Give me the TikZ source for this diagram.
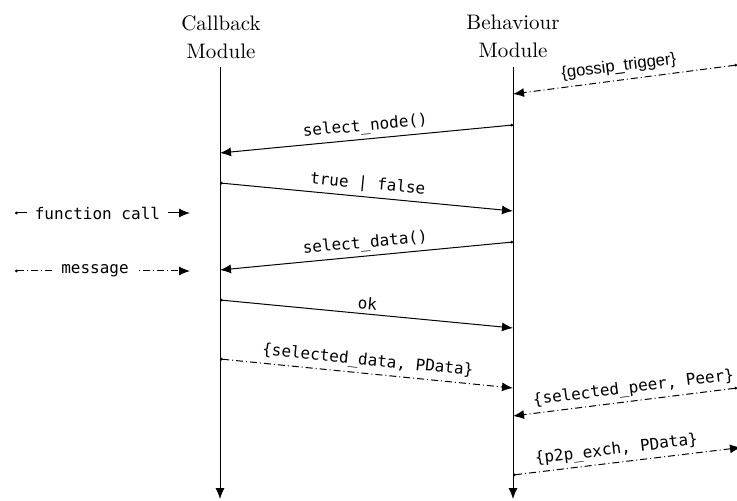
\documentclass[tikz,border=0pt]{standalone}
\usepackage{fontspec}
\newfontfamily\monofont{DejaVu Sans Mono}
\newfontfamily\helvfont{Liberation Sans}
\usetikzlibrary{arrows.meta}
\begin{document}
\begin{tikzpicture}[x=0.5pt,y=-0.5pt,
  lifeline/.style={line width=0.45pt,-{Latex[length=5.5pt,width=4.5pt]}},
  call/.style={line width=0.5pt,{Circle[length=1.3pt]}-{Latex[length=5.5pt,width=4.5pt]}},
  msg/.style={call,dash pattern=on 3.5pt off 1.5pt on 0.5pt off 1.5pt},
  lbl/.style={font=\monofont\fontsize{8}{9}\selectfont,sloped,above,inner sep=2pt},
  sanslbl/.style={font=\helvfont\fontsize{8.3}{9}\selectfont,sloped,above,inner sep=2.5pt},
  legendtext/.style={font=\monofont\fontsize{8}{9}\selectfont,fill=white,inner xsep=4pt,inner ysep=1pt},
  title/.style={font=\fontsize{10.5}{14}\selectfont,align=center,anchor=north,inner sep=0pt}]
\useasboundingbox (0,0) rectangle (737,501);
\clip (0,0) rectangle (737,501);
% titles
\node[title] (cb) at (221,15) {Callback\\Module};
\node[title] (bm) at (513,15) {Behaviour\\Module};
% lifelines
\coordinate (cbTop) at (220,67);
\coordinate (cbBot) at (220,499);
\coordinate (bmTop) at (513,67);
\coordinate (bmBot) at (513,499);
\draw[lifeline] (cbTop) -- (cbBot);
\draw[lifeline] (bmTop) -- (bmBot);
% messages
\coordinate (g1) at (737,65);   \coordinate (g2) at (513,94);
\coordinate (n1) at (513,125);  \coordinate (n2) at (220,153);
\coordinate (t1) at (220,183);  \coordinate (t2) at (513,211);
\coordinate (d1) at (513,242);  \coordinate (d2) at (220,270);
\coordinate (o1) at (220,300);  \coordinate (o2) at (513,328);
\coordinate (s1) at (220,359);  \coordinate (s2) at (513,388);
\coordinate (p1) at (737,388);  \coordinate (p2) at (513,416);
\coordinate (x1) at (513,475);  \coordinate (x2) at (741,447.5);
\draw[msg] (g1) -- node[sanslbl,pos=0.52] {\{gossip\_trigger\}} (g2);
\draw[call] (n1) -- node[lbl] {select\_node()} (n2);
\draw[call] (t1) -- node[lbl] {true | false} (t2);
\draw[call] (d1) -- node[lbl] {select\_data()} (d2);
\draw[call] (o1) -- node[lbl] {ok} (o2);
\draw[msg] (s1) -- node[lbl] {\{selected\_data, PData\}} (s2);
\draw[msg] (p1) -- node[lbl,pos=0.455] {\{selected\_peer, Peer\}} (p2);
\draw[msg] (x1) -- node[lbl,pos=0.46] {\{p2p\_exch, PData\}} (x2);
% legend
\coordinate (f1) at (15,213); \coordinate (f2) at (190,213);
\coordinate (m1) at (15,271); \coordinate (m2) at (190,271);
\draw[call] (f1) -- node[legendtext,pos=0.471] (fl) {function call} (f2);
\draw[msg] (m1) -- node[legendtext,pos=0.457] (ml) {message} (m2);
\end{tikzpicture}
\end{document}
